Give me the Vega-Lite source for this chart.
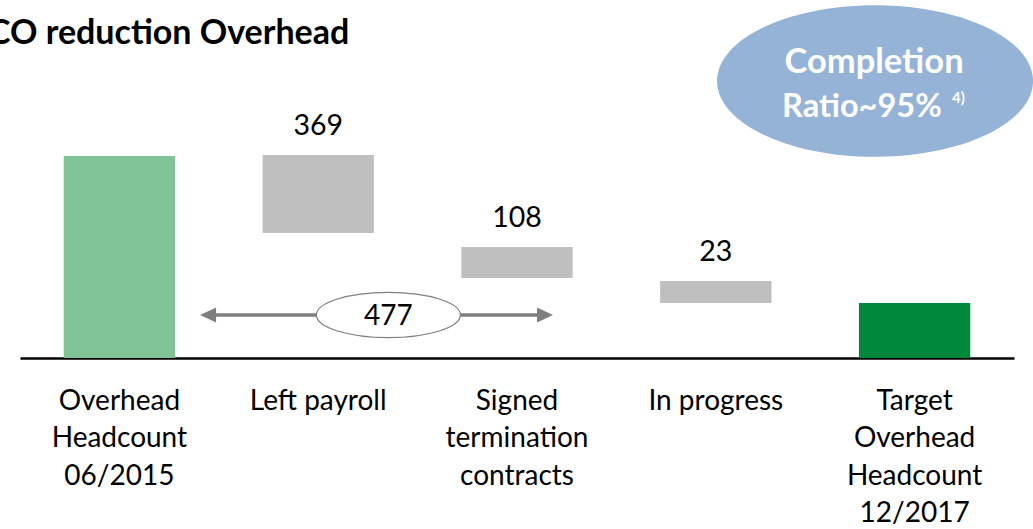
{
  "$schema": "https://vega.github.io/schema/vega-lite/v6.json",
  "width": 994,
  "height": 303,
  "autosize": {"type": "none"},
  "padding": {"left": 20, "top": 55, "right": 19, "bottom": 171},
  "background": "white",
  "config": {"view": {"stroke": null}, "font": "Lato"},
  "title": {"text": "CO reduction Overhead", "anchor": "start", "frame": "group", "dx": -32, "dy": 82, "offset": 9, "fontSize": 34, "font": "Lato", "fontWeight": "bold", "color": "black", "baseline": "alphabetic"},
  "data": {"values": [
    {"category": "Overhead Headcount 06/2015", "kind": "start", "start": 0, "end": 1010},
    {"category": "Left payroll", "kind": "decrease", "start": 625, "end": 1015, "value": 369},
    {"category": "Signed termination contracts", "kind": "decrease", "start": 400, "end": 555, "value": 108},
    {"category": "In progress", "kind": "decrease", "start": 275, "end": 385, "value": 23},
    {"category": "Target Overhead Headcount 12/2017", "kind": "target", "start": 0, "end": 275}
  ]},
  "resolve": {"scale": {"x": "independent"}},
  "layer": [
    {
      "layer": [
        {
          "mark": {"type": "bar"},
          "encoding": {
            "x": {"field": "category", "type": "nominal", "sort": null,
              "scale": {"paddingInner": 0.44, "paddingOuter": 0.22},
              "axis": {"title": null, "domainColor": "black", "domainWidth": 2.5, "ticks": false, "labelAngle": 0, "labelFont": "Lato", "labelFontSize": 28, "labelColor": "black", "labelPadding": 29, "labelLineHeight": 37.5, "labelOverlap": false, "labelLimit": 0, "labelBaseline": "top",
                "labelExpr": "datum.value == 'Left payroll' || datum.value == 'In progress' ? datum.value : split(datum.value, ' ')"}},
            "y": {"field": "start", "type": "quantitative", "scale": {"domain": [0, 1515], "nice": false, "zero": false}, "axis": null},
            "y2": {"field": "end"},
            "color": {"field": "kind", "type": "nominal", "scale": {"domain": ["start", "decrease", "target"], "range": ["#7fc397", "#bfbfbf", "#00883c"]}, "legend": null}
          }
        },
        {
          "transform": [{"filter": "isValid(datum.value)"}],
          "mark": {"type": "text", "dy": -20, "baseline": "alphabetic", "align": "center", "fontSize": 28.5, "font": "Lato", "color": "black"},
          "encoding": {
            "x": {"field": "category", "type": "nominal", "sort": null},
            "y": {"field": "end", "type": "quantitative", "scale": {"domain": [0, 1515], "nice": false, "zero": false}, "axis": null},
            "text": {"field": "value", "type": "quantitative"}
          }
        }
      ]
    },
    {
      "data": {"values": [{}]},
      "mark": {"type": "rule", "color": "#7f7f7f", "strokeWidth": 3.5},
      "encoding": {
        "x": {"datum": 0.946, "type": "quantitative", "scale": {"domain": [0, 5], "nice": false, "zero": false}, "axis": null},
        "x2": {"datum": 2.641},
        "y": {"datum": 215, "type": "quantitative", "scale": {"domain": [0, 1515], "nice": false, "zero": false}, "axis": null}
      }
    },
    {
      "data": {"values": [{}]},
      "mark": {"type": "point", "shape": "M -1 0 L 1 -0.95 L 1 0.95 Z", "size": 256, "filled": true, "color": "#7f7f7f", "opacity": 1},
      "encoding": {
        "x": {"datum": 0.946, "type": "quantitative", "scale": {"domain": [0, 5], "nice": false, "zero": false}, "axis": null},
        "y": {"datum": 215, "type": "quantitative", "scale": {"domain": [0, 1515], "nice": false, "zero": false}, "axis": null}
      }
    },
    {
      "data": {"values": [{}]},
      "mark": {"type": "point", "shape": "M 1 0 L -1 -0.95 L -1 0.95 Z", "size": 256, "filled": true, "color": "#7f7f7f", "opacity": 1},
      "encoding": {
        "x": {"datum": 2.641, "type": "quantitative", "scale": {"domain": [0, 5], "nice": false, "zero": false}, "axis": null},
        "y": {"datum": 215, "type": "quantitative", "scale": {"domain": [0, 1515], "nice": false, "zero": false}, "axis": null}
      }
    },
    {
      "data": {"values": [{}]},
      "mark": {"type": "point", "shape": "M -1 0 A 1 0.315 0 1 0 1 0 A 1 0.315 0 1 0 -1 0 Z", "size": 20736, "filled": true, "fill": "white", "stroke": "#7f7f7f", "strokeWidth": 1.2, "opacity": 1},
      "encoding": {
        "x": {"datum": 1.853, "type": "quantitative", "scale": {"domain": [0, 5], "nice": false, "zero": false}, "axis": null},
        "y": {"datum": 215, "type": "quantitative", "scale": {"domain": [0, 1515], "nice": false, "zero": false}, "axis": null}
      }
    },
    {
      "data": {"values": [{}]},
      "mark": {"type": "text", "text": "477", "baseline": "alphabetic", "align": "center", "fontSize": 28, "font": "Lato", "color": "black"},
      "encoding": {
        "x": {"datum": 1.853, "type": "quantitative", "scale": {"domain": [0, 5], "nice": false, "zero": false}, "axis": null},
        "y": {"datum": 165, "type": "quantitative", "scale": {"domain": [0, 1515], "nice": false, "zero": false}, "axis": null}
      }
    },
    {
      "data": {"values": [{}]},
      "mark": {"type": "point", "shape": "M -1 0 A 1 0.48 0 1 0 1 0 A 1 0.48 0 1 0 -1 0 Z", "size": 99856, "filled": true, "fill": "#95b3d7", "strokeWidth": 0, "opacity": 1},
      "encoding": {
        "x": {"datum": 4.301, "type": "quantitative", "scale": {"domain": [0, 5], "nice": false, "zero": false}, "axis": null},
        "y": {"datum": 1385, "type": "quantitative", "scale": {"domain": [0, 1515], "nice": false, "zero": false}, "axis": null}
      }
    },
    {
      "data": {"values": [{}]},
      "mark": {"type": "text", "text": "Completion", "baseline": "alphabetic", "align": "center", "fontSize": 34.5, "fontWeight": "bold", "font": "Lato", "color": "white"},
      "encoding": {
        "x": {"datum": 4.296, "type": "quantitative", "scale": {"domain": [0, 5], "nice": false, "zero": false}, "axis": null},
        "y": {"datum": 1425, "type": "quantitative", "scale": {"domain": [0, 1515], "nice": false, "zero": false}, "axis": null}
      }
    },
    {
      "data": {"values": [{}]},
      "mark": {"type": "text", "text": "Ratio~95%", "baseline": "alphabetic", "align": "center", "fontSize": 32.5, "fontWeight": "bold", "font": "Lato", "color": "white"},
      "encoding": {
        "x": {"datum": 4.235, "type": "quantitative", "scale": {"domain": [0, 5], "nice": false, "zero": false}, "axis": null},
        "y": {"datum": 1205, "type": "quantitative", "scale": {"domain": [0, 1515], "nice": false, "zero": false}, "axis": null}
      }
    },
    {
      "data": {"values": [{}]},
      "mark": {"type": "text", "text": "4)", "baseline": "alphabetic", "align": "left", "fontSize": 15, "fontWeight": "bold", "font": "Lato", "color": "white"},
      "encoding": {
        "x": {"datum": 4.688, "type": "quantitative", "scale": {"domain": [0, 5], "nice": false, "zero": false}, "axis": null},
        "y": {"datum": 1275, "type": "quantitative", "scale": {"domain": [0, 1515], "nice": false, "zero": false}, "axis": null}
      }
    }
  ]
}
